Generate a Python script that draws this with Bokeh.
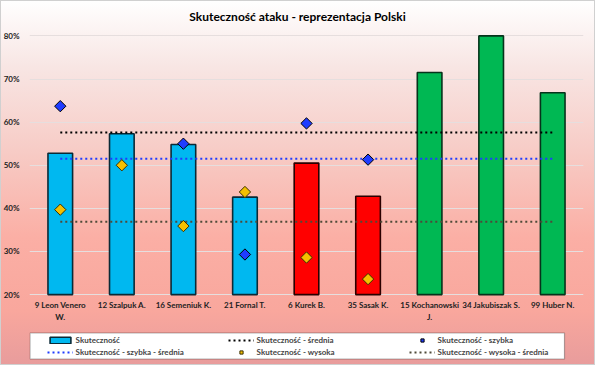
import math
from bokeh.plotting import figure
from bokeh.models import (ColumnDataSource, FactorRange, Range1d, FixedTicker,
                          NumeralTickFormatter, Legend, LegendItem, Label, BoxAnnotation)
from bokeh.core.properties import value
from bokeh.embed import file_html
from bokeh.resources import INLINE

# ---------------- data ----------------
players = ["9 Leon Venero W.", "12 Szalpuk A.", "16 Semeniuk K.", "21 Fornal T.",
           "6 Kurek B.", "35 Sasak K.", "15 Kochanowski J.", "34 Jakubiszak S.", "99 Huber N."]
tick_line1 = ["9 Leon Venero", "12 Szalpuk A.", "16 Semeniuk K.", "21 Fornal T.",
              "6 Kurek B.", "35 Sasak K.", "15 Kochanowski", "34 Jakubiszak S.", "99 Huber N."]
tick_line2 = ["W.", "", "", "", "", "", "J.", "", ""]
skutecznosc = [0.528, 0.573, 0.548, 0.426, 0.505, 0.428, 0.715, 0.800, 0.668]

szybka_players = ["9 Leon Venero W.", "16 Semeniuk K.", "21 Fornal T.", "6 Kurek B.", "35 Sasak K."]
szybka = [0.637, 0.550, 0.293, 0.597, 0.513]

wysoka_players = ["9 Leon Venero W.", "12 Szalpuk A.", "16 Semeniuk K.", "21 Fornal T.",
                  "6 Kurek B.", "35 Sasak K."]
wysoka = [0.397, 0.500, 0.359, 0.438, 0.286, 0.236]

srednia = 0.576
szybka_srednia = 0.515
wysoka_srednia = 0.369

y_ticks = [0.2, 0.3, 0.4, 0.5, 0.6, 0.7, 0.8]
y_base = 0.2

# ---------------- styles ----------------
bar_fill = ["#00b8f0"] * 4 + ["#ff0000"] * 2 + ["#00b853"] * 3
bar_line = ["#0b2a36"] * 4 + ["#2a0000"] * 2 + ["#06331b"] * 3
FONT = "Lato"
W, H = 595, 365
LEFT, RIGHT = 29, 12
# frame spans whole height; y range chosen so 80% sits at 35px and 20% at 294px
Y_TOP, Y_BOT = 0.8821, 0.0356

p = figure(x_range=FactorRange(factors=players), y_range=Range1d(Y_BOT, Y_TOP),
           width=W, height=H, output_backend="svg", toolbar_location=None,
           min_border_left=LEFT, min_border_right=RIGHT, min_border_top=0, min_border_bottom=0,
           background_fill_color=None, border_fill_color=None, outline_line_color=None)

p.styles = {
    "background": "linear-gradient(to bottom, #ffffff 0%, #f8e6e4 18%, #f7cbc5 42%, #fbafa5 65%, #f9a79d 85%, #e89c9c 100%)",
    "box-shadow": "inset 0 0 0 1px #d0d0d0",
}

# bars
src = ColumnDataSource(dict(x=players, top=skutecznosc, fill=bar_fill, line=bar_line))
bars = p.vbar(x="x", top="top", bottom=y_base, width=0.4, source=src,
              fill_color="fill", line_color="line", line_width=1.6)

# mean lines
l_mean = p.line(x=[players[0], players[-1]], y=[srednia, srednia],
                line_color="#000000", line_width=2, line_dash="2 3")
l_szyb = p.line(x=[players[0], players[-1]], y=[szybka_srednia, szybka_srednia],
                line_color="#1f3cff", line_width=2, line_dash="2 3")
l_wys = p.line(x=[players[0], players[-1]], y=[wysoka_srednia, wysoka_srednia],
               line_color="#4f4a38", line_width=2, line_dash="2 3")

# markers
s_szyb = p.scatter(x=szybka_players, y=szybka, marker="square", angle=math.pi / 4,
                   size=8, fill_color="#1f3cff", line_color="#000000", line_width=1)
s_wys = p.scatter(x=wysoka_players, y=wysoka, marker="square", angle=math.pi / 4,
                  size=8, fill_color="#f5c000", line_color="#3a3000", line_width=1)

# category labels (drawn as text at the category positions, below the 20% line)
p.text(x=players, y=[y_base] * len(players), text=tick_line1, x_offset=0, y_offset=10,
       text_font=value(FONT), text_font_style="bold", text_font_size=value("8px"),
       text_align="center", text_baseline="middle", text_color="#222222")
p.text(x=players, y=[y_base] * len(players), text=tick_line2, x_offset=0, y_offset=22,
       text_font=value(FONT), text_font_style="bold", text_font_size=value("8px"),
       text_align="center", text_baseline="middle", text_color="#222222")

# axes
p.xaxis.visible = False
p.yaxis.ticker = FixedTicker(ticks=y_ticks)
p.yaxis.formatter = NumeralTickFormatter(format="0%")
p.yaxis.axis_line_color = None
p.yaxis.major_tick_line_color = None
p.yaxis.minor_tick_line_color = None
p.yaxis.major_tick_out = 0
p.yaxis.major_label_standoff = 10
p.yaxis.major_label_text_font = FONT
p.yaxis.major_label_text_font_style = "bold"
p.yaxis.major_label_text_font_size = "8px"
p.yaxis.major_label_text_color = "#222222"

p.xgrid.grid_line_color = None
p.ygrid.grid_line_color = "#e6dede"
p.ygrid.grid_line_width = 1

# title
p.add_layout(Label(x=297 - LEFT, y=H - 16, x_units="screen", y_units="screen",
                   text="Skuteczność ataku - reprezentacja Polski",
                   text_font=FONT, text_font_style="bold", text_font_size="12px",
                   text_align="center", text_baseline="middle", text_color="#000000"))

# legend box
p.add_layout(BoxAnnotation(left=0.5, right=535, top=H - 332.5, bottom=H - 358.5,
                           left_units="screen", right_units="screen",
                           top_units="screen", bottom_units="screen",
                           fill_color="#ffffff", fill_alpha=1.0,
                           line_color="#000000", line_width=1.2))

legend = Legend(items=[
    LegendItem(label="Skuteczność", renderers=[bars]),
    LegendItem(label="Skuteczność - średnia", renderers=[l_mean]),
    LegendItem(label="Skuteczność - szybka", renderers=[s_szyb]),
    LegendItem(label="Skuteczność - szybka - średnia", renderers=[l_szyb]),
    LegendItem(label="Skuteczność - wysoka", renderers=[s_wys]),
    LegendItem(label="Skuteczność - wysoka - średnia", renderers=[l_wys]),
], location=(17.6, 7.4), orientation="horizontal", ncols=3,
    padding=0, margin=0, spacing=0, label_standoff=3,
    glyph_width=26, glyph_height=8, label_height=12, label_width=152,
    label_text_font=FONT, label_text_font_style="bold", label_text_font_size="8px",
    border_line_color=None, background_fill_alpha=0)
p.add_layout(legend, "center")

open("out.html", "w").write(file_html(p, INLINE))
